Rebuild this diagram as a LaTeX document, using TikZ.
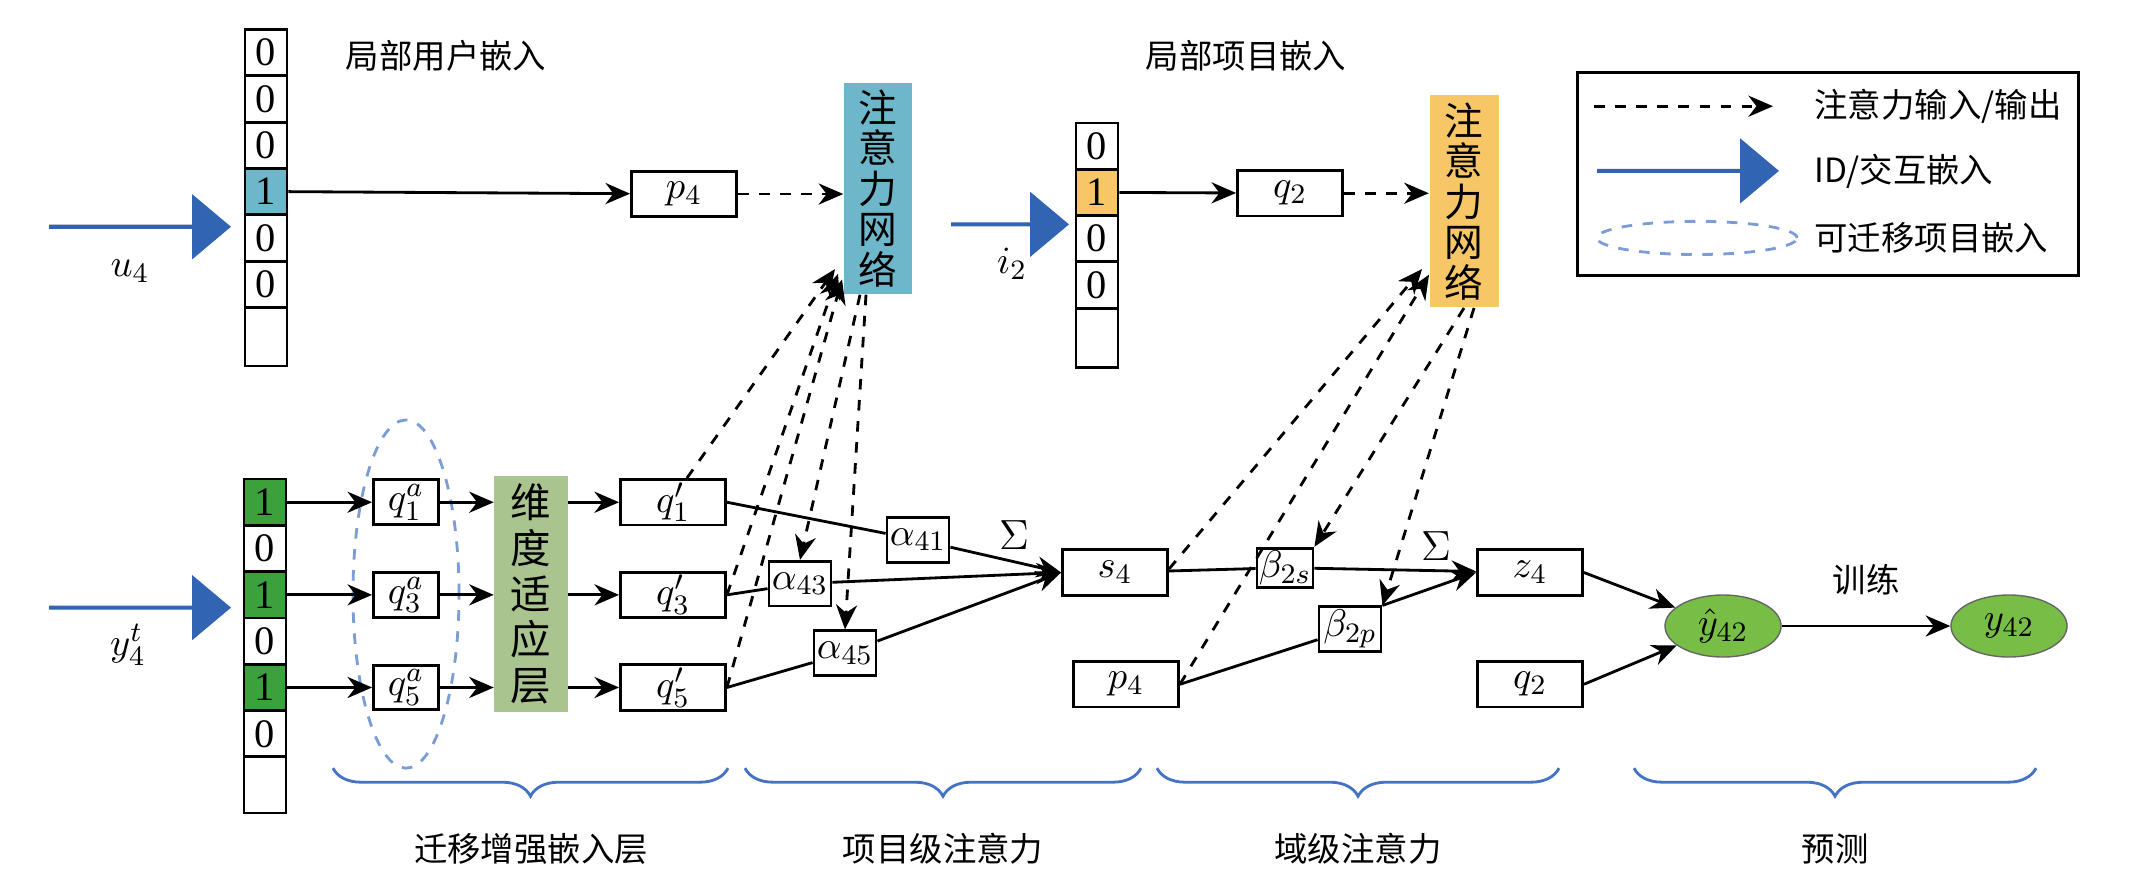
\documentclass[tikz,border=0pt]{standalone}
\usepackage{fontspec}
\setmainfont{Liberation Serif}
\newfontfamily\cjk{Noto Sans CJK SC}
\usetikzlibrary{arrows.meta,shapes.geometric,shapes.arrows,decorations.pathreplacing}
\definecolor{attb}{RGB}{110,183,203}
\definecolor{atto}{RGB}{246,198,103}
\definecolor{dimg}{RGB}{169,196,143}
\definecolor{cellg}{RGB}{60,160,60}
\definecolor{cellb}{RGB}{110,183,203}
\definecolor{cello}{RGB}{246,198,103}
\definecolor{arrb}{RGB}{50,100,180}
\definecolor{brc}{RGB}{68,114,196}
\definecolor{ellg}{RGB}{120,190,70}
\begin{document}
\begin{tikzpicture}[x=0.01cm,y=-0.00798cm,
 box/.style={draw,thick,minimum width=1.05cm,minimum height=0.455cm,inner sep=0,font=\fontsize{11}{12}\selectfont},
 abox/.style={draw,thick,minimum width=0.62cm,minimum height=0.447cm,inner sep=0,font=\fontsize{11}{12}\selectfont},
 cell/.style={draw,thick,minimum width=0.42cm,inner sep=0,font=\fontsize{11.5}{12}\selectfont},
 lbl/.style={font=\cjk\fontsize{9.5}{11}\selectfont},
 att/.style={inner sep=0,font=\cjk\fontsize{11}{11.5}\selectfont,align=center},
 sol/.style={thick,-{Stealth[length=7pt,width=6pt]}},
 dsh/.style={thick,dashed,-{Stealth[length=7pt,width=6pt]}},
 bigarr/.style={draw=arrb,fill=arrb,single arrow,single arrow head extend=0.15cm,minimum height=1.8cm,minimum width=0.62cm,inner sep=0,single arrow tip angle=80},
 brace/.style={draw=brc,thick,decorate,decoration={brace,mirror,amplitude=8pt}},
 ell/.style={ellipse,draw=black!60,fill=ellg,minimum width=1.16cm,minimum height=0.62cm,inner sep=0,font=\fontsize{11}{12}\selectfont}]
\useasboundingbox (0,0) rectangle (2131,1088);
\fill[white] (0,0) rectangle (2131,1088);
% user vector
\foreach \v/\c [count=\i] in {0/white,0/white,0/white,1/cellb,0/white,0/white}{
  \pgfmathsetmacro\yy{37+58*(\i-1)+29}
  \node[cell,fill=\c,minimum height=0.463cm] (u\i) at (266,\yy) {\v};}
\node[cell,minimum height=0.58cm] (u7) at (266,422) {};
% item vector
\foreach \v/\c [count=\i] in {0/white,1/cello,0/white,0/white}{
  \pgfmathsetmacro\yy{154+58*(\i-1)+29}
  \node[cell,fill=\c,minimum height=0.463cm] (it\i) at (1097,\yy) {\v};}
\node[cell,minimum height=0.59cm] (it5) at (1097,423) {};
% bottom vector
\foreach \v/\c [count=\i] in {1/cellg,0/white,1/cellg,0/white,1/cellg,0/white}{
  \pgfmathsetmacro\yy{600+58*(\i-1)+29}
  \node[cell,fill=\c,minimum height=0.463cm] (y\i) at (265,\yy) {\v};}
\node[cell,minimum height=0.56cm] (y7) at (265,983) {};
% big arrows
\node[bigarr] (ua) at (139,284) {};
\node[bigarr] (ya) at (139,761) {};
\node[bigarr,minimum height=1.16cm] (ia) at (1009,281) {};
\node (u4l) at (130,340) {\fontsize{11}{12}\selectfont$u_4$};
\node (y4l) at (128,808) {\fontsize{11}{12}\selectfont$y_4^t$};
\node (i2l) at (1012,330) {\fontsize{11}{12}\selectfont$i_2$};
\node[lbl] (l1) at (446,70) {局部用户嵌入};
\node[lbl] (l2) at (1246,70) {局部项目嵌入};
% attention nets
\node[att,fill=attb,minimum width=0.68cm,minimum height=2.11cm] (att1) at (878,236) {注\\意\\力\\网\\络};
\node[att,fill=atto,minimum width=0.69cm,minimum height=2.12cm] (att2) at (1464,252) {注\\意\\力\\网\\络};
% top boxes
\node[box] (p4t) at (684,243) {$p_4$};
\node[box] (q2t) at (1290,242) {$q_2$};
\draw[sol] (u4.east) -- (p4t);
\draw[dsh] (p4t) -- (att1.west|-p4t);
\draw[sol] (it2.east) -- (q2t);
\draw[dsh] (q2t) -- (att2.west|-q2t);
% q^a
\node[draw=brc!70!white,dashed,thick,ellipse,minimum width=1.06cm,minimum height=3.48cm] (te) at (406,744) {};
\foreach \k/\yy [count=\i] in {1/629,3/745,5/861}{
  \node[abox,minimum width=0.65cm] (qa\k) at (406,\yy) {$q_{\k}^{a}$};
  \node[box] (qp\k) at (673,\yy) {$q_{\k}'$};}
\node[att,fill=dimg,minimum width=0.73cm,minimum height=2.35cm,font=\cjk\fontsize{11.5}{13}\selectfont] (dim) at (531,744) {维\\度\\适\\应\\层};
\draw[sol] (y1.east) -- (qa1); \draw[sol] (y3.east) -- (qa3); \draw[sol] (y5.east) -- (qa5);
\foreach \k in {1,3,5}{
  \draw[sol] (qa\k) -- (dim.west|-qa\k);
  \draw[sol] (dim.east|-qp\k) -- (qp\k);}
% alphas
\node[abox] (a41) at (918,676) {$\alpha_{41}$};
\node[abox] (a43) at (800,731) {$\alpha_{43}$};
\node[abox] (a45) at (845,818) {$\alpha_{45}$};
\node[box] (s4) at (1115,717) {$s_4$};
\node (sig1) at (1014,670) {\fontsize{13}{14}\selectfont$\Sigma$};
\draw[thick] (qp1.east) -- (a41);
\draw[sol] (a41) -- (s4.west);
\draw[thick] (qp3.east) -- (a43);
\draw[sol] (a43) -- (s4.west);
\draw[thick] (qp5.east) -- (a45);
\draw[sol] (a45) -- (s4.west);
\coordinate (at1a) at (835,337);
\coordinate (at1b) at (838,343);
\coordinate (at1c) at (842,350);
\draw[dsh] (qp1.north east) ++(-40,0) -- (at1a);
\draw[dsh] (qp3.east) -- (at1b);
\draw[dsh] (qp5.east) -- (at1c);
\draw[dsh] (att1.south) ++(-18,0) -- (a43.north);
\draw[dsh] (att1.south) ++(-12,0) -- (a45.north);
% domain level
\node[abox,minimum width=0.56cm,minimum height=0.39cm] (b2s) at (1285,711) {$\beta_{2s}$};
\node[abox] (b2p) at (1350,788) {$\beta_{2p}$};
\node[box] (z4) at (1530,717) {$z_4$};
\node[box] (p4b) at (1126,857) {$p_4$};
\node[box] (q2b) at (1530,857) {$q_2$};
\node (sig2) at (1436,684) {\fontsize{13}{14}\selectfont$\Sigma$};
\draw[thick] (s4) -- (b2s);
\draw[sol] (b2s) -- (z4);
\draw[thick] (p4b.east) -- (b2p);
\draw[sol] (b2p.north east) -- (z4.west);
\coordinate (at2a) at (1422,337);
\coordinate (at2b) at (1429,344);
\draw[dsh] (s4.north east) ++(0,26) -- (at2a);
\draw[dsh] (p4b.east) -- (at2b);
\draw[dsh] (att2.south) -- (b2s.north east);
\draw[dsh] (att2.south) ++(10,0) -- (b2p.north east);
% prediction
\node[ell] (yh) at (1723,784) {$\hat{y}_{42}$};
\node[ell] (yy) at (2009,784) {$y_{42}$};
\draw[sol] (z4.east) -- (yh);
\draw[sol] (q2b.east) -- (yh);
\draw[sol] (yh) -- (yy) node[midway,above=5pt,lbl] {训练};
% braces
\draw[brace] (333,962) -- (728,962);
\draw[brace] (745,962) -- (1141,962);
\draw[brace] (1157,962) -- (1559,962);
\draw[brace] (1634,962) -- (2036,962);
\node[lbl] (b1) at (531,1063) {迁移增强嵌入层};
\node[lbl] (b2) at (943,1063) {项目级注意力};
\node[lbl] (b3) at (1358,1063) {域级注意力};
\node[lbl] (b4) at (1835,1063) {预测};
% legend
\node[draw,thick,minimum width=5.01cm,minimum height=2.03cm] (leg) at (1828,218) {};
\coordinate (lg1a) at (1594,133);
\coordinate (lg1b) at (1773,133);
\draw[dsh] (lg1a) -- (lg1b);
\node[bigarr,minimum height=1.8cm,anchor=west] (lga) at (1597,214) {};
\node[draw=brc!70!white,dashed,thick,ellipse,minimum width=2cm,minimum height=0.21cm] (lge) at (1697,298) {};
\node[lbl,anchor=west] (lt1) at (1802,133) {注意力输入/输出};
\node[lbl,anchor=west] (lt2) at (1802,214) {ID/交互嵌入};
\node[lbl,anchor=west] (lt3) at (1802,298) {可迁移项目嵌入};
\end{tikzpicture}
\end{document}
